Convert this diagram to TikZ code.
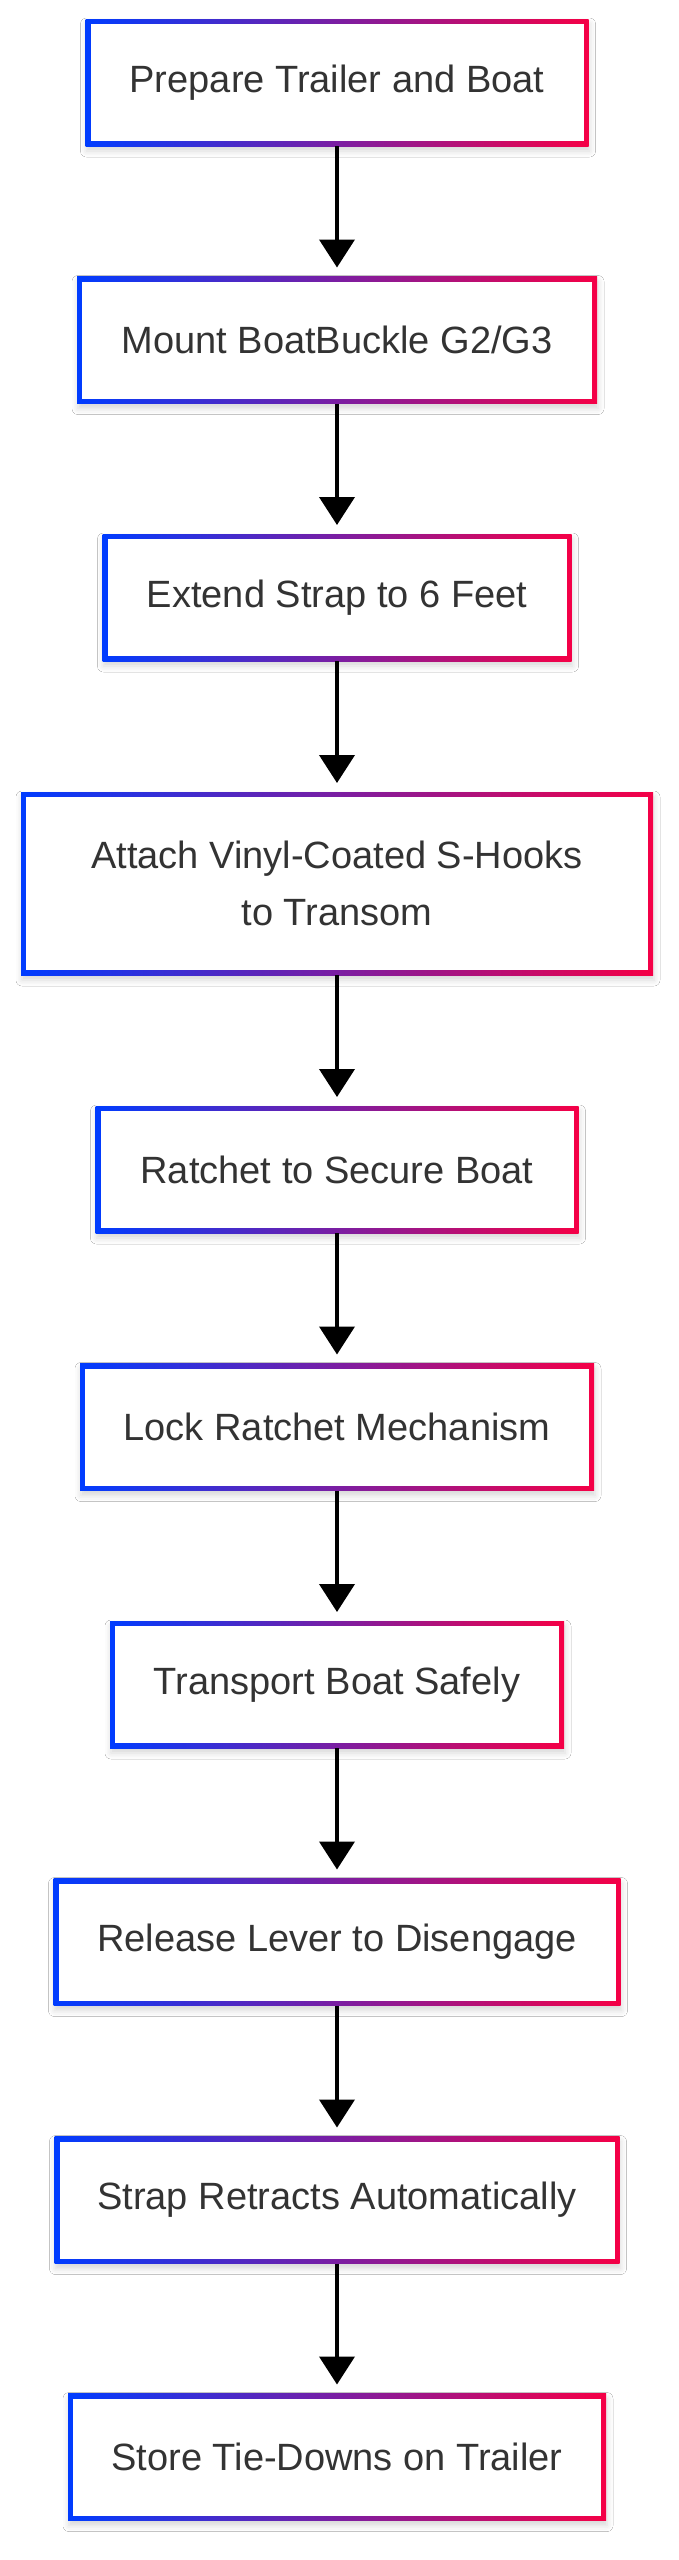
\documentclass[tikz,border=0pt]{standalone}
\usepackage{fontspec}
\setmainfont{Liberation Sans}
\usetikzlibrary{arrows.meta,shadows.blur}
\definecolor{gblue}{RGB}{0,60,255}
\definecolor{gred}{RGB}{245,0,70}
\definecolor{txt}{RGB}{51,51,51}
\tikzset{
  stepbox/.style={rectangle, inner sep=0pt, outer sep=0pt, minimum height=127pt,
    fill=white, text=txt, font=\fontsize{38}{57}\selectfont, align=center,
    blur shadow={shadow xshift=1pt, shadow yshift=-5pt, shadow blur radius=6pt, shadow opacity=16},
    path picture={
      \shade[left color=gblue, right color=gred] (path picture bounding box.south west) rectangle (path picture bounding box.north east);
      \fill[white] ([shift={(5pt,5pt)}]path picture bounding box.south west) rectangle ([shift={(-5pt,-5pt)}]path picture bounding box.north east);
    }},
  flow/.style={line width=4pt, -{Triangle[width=35pt,length=28pt]}, shorten >=9pt}
}
\begin{document}
\begin{tikzpicture}[x=1pt,y=-1pt]
\useasboundingbox[fill=white] (0,0) rectangle (678,2560);
\node[stepbox, minimum width=503pt] (n1) at (337,82.5) {Prepare Trailer and Boat};
\node[stepbox, minimum width=520pt] (n2) at (337,340) {Mount BoatBuckle G2/G3};
\node[stepbox, minimum width=469pt] (n3) at (337,597.5) {Extend Strap to 6 Feet};
\node[stepbox, minimum width=632pt, minimum height=183pt] (n4) at (337,883.5) {Attach Vinyl-Coated S-Hooks\\to Transom};
\node[stepbox, minimum width=483pt] (n5) at (337,1169.5) {Ratchet to Secure Boat};
\node[stepbox, minimum width=514pt] (n6) at (337,1427) {Lock Ratchet Mechanism};
\node[stepbox, minimum width=454pt] (n7) at (337,1684.5) {Transport Boat Safely};
\node[stepbox, minimum width=567pt] (n8) at (337,1942) {Release Lever to Disengage};
\node[stepbox, minimum width=565pt] (n9) at (337,2200) {Strap Retracts Automatically};
\node[stepbox, minimum width=538pt] (n10) at (337,2457) {Store Tie-Downs on Trailer};
\foreach \a/\b in {n1/n2,n2/n3,n3/n4,n4/n5,n5/n6,n6/n7,n7/n8,n8/n9,n9/n10}
  \draw[flow] (\a.south) -- (\b.north);
\end{tikzpicture}
\end{document}
